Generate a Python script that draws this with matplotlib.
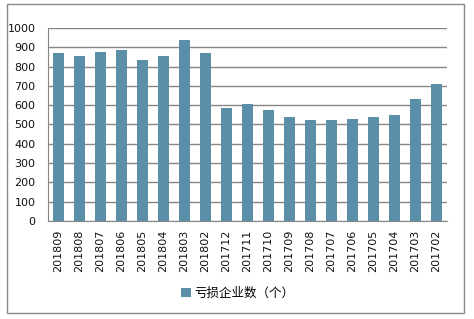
import matplotlib.pyplot as plt
from matplotlib.patches import Rectangle

months = ["201809", "201808", "201807", "201806", "201805", "201804", "201803",
          "201802", "201712", "201711", "201710", "201709", "201708", "201707",
          "201706", "201705", "201704", "201703", "201702"]
loss_firms = [872, 856, 877, 888, 836, 856, 939, 872, 587, 608, 577, 541,
              525, 525, 530, 541, 551, 634, 711]
yticks = list(range(0, 1001, 100))

plt.rcParams['font.family'] = ['DejaVu Sans', 'Noto Sans CJK SC']

fig = plt.figure(figsize=(4.74, 3.19), dpi=100)
fig.patches.append(Rectangle((7 / 474, 1 - 313 / 319), 457 / 474, 309 / 319,
                             transform=fig.transFigure, fill=False,
                             edgecolor="#888888", linewidth=1))
ax = fig.add_axes([48 / 474, 1 - 221 / 319, 399 / 474, 193 / 319])

x = range(len(months))
bars = ax.bar(x, loss_firms, width=0.48, color="#5B8FA8", zorder=3,
              label="亏损企业数（个）")
ax.set_xlim(-0.5, len(months) - 0.5)
ax.set_ylim(0, 1000)
ax.set_yticks(yticks)
ax.set_yticklabels([str(v) for v in yticks], fontsize=8, color="#111111")
ax.set_xticks(list(x))
ax.set_xticklabels(months, rotation=90, fontsize=8, color="#111111")
ax.tick_params(axis="y", length=0, pad=9)
ax.tick_params(axis="x", length=0, pad=6)
ax.grid(axis="y", color="#868686", linewidth=1, zorder=0)
for s in ["top", "right"]:
    ax.spines[s].set_visible(False)
for s in ["left", "bottom"]:
    ax.spines[s].set_color("#868686")

fig.legend(handles=[bars], labels=["亏损企业数（个）"], loc="center",
           bbox_to_anchor=(238 / 474, 1 - 293 / 319), frameon=False,
           prop={"family": ["Noto Sans CJK SC"], "size": 9},
           handlelength=0.75, handleheight=0.75, handletextpad=0.3)

fig.savefig("out.png", dpi=100)
